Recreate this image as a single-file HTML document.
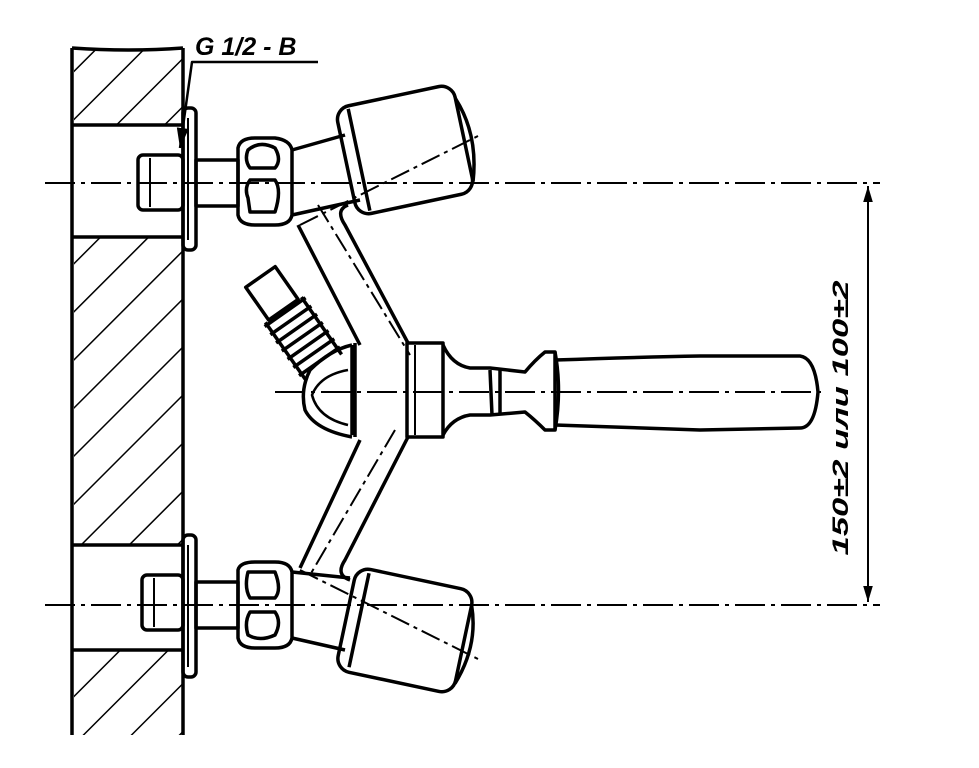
<!DOCTYPE html>
<html><head><meta charset="utf-8"><style>
html,body{margin:0;padding:0;background:#fff;}
svg{display:block}
text{font-family:"Liberation Sans",sans-serif;font-style:italic;font-weight:bold;fill:#000}
</style></head><body>
<svg width="979" height="768" viewBox="0 0 979 768" xmlns="http://www.w3.org/2000/svg">
<defs>
<pattern id="h" patternUnits="userSpaceOnUse" width="34" height="34" patternTransform="rotate(45)">
<line x1="0" y1="0" x2="0" y2="34" stroke="#000" stroke-width="3"/>
</pattern>
<marker id="a" viewBox="0 0 10 10" refX="10" refY="5" markerWidth="8" markerHeight="8" orient="auto-start-reverse"><path d="M0,2 L10,5 L0,8 z" fill="#000"/></marker>
</defs>
<g fill="none" stroke="#000" stroke-width="3.5" stroke-linejoin="round">
<path d="M72,48 L72,735 M183,48 L183,735 M72,48 Q130,52 183,48" />
<rect x="74" y="50" width="108" height="75" fill="url(#h)" stroke="none"/>
<rect x="74" y="237" width="108" height="308" fill="url(#h)" stroke="none"/>
<rect x="74" y="650" width="108" height="85" fill="url(#h)" stroke="none"/>
<path d="M72,125 H183 M72,237 H183 M72,545 H183 M72,650 H183"/>
<g stroke-width="2" stroke-dasharray="30,6,4,6">
<line x1="45" y1="183" x2="880" y2="183"/>
<line x1="45" y1="605" x2="880" y2="605"/>
<line x1="275" y1="392" x2="822" y2="392"/>
</g>
<line x1="868" y1="186" x2="868" y2="602" stroke-width="2" marker-start="url(#a)" marker-end="url(#a)"/>
<path d="M318,62 H192 L180,148" stroke-width="2.5" marker-end="url(#a)"/>
<rect x="183" y="108" width="13" height="142" rx="5"/>
<line x1="188" y1="118" x2="188" y2="240" stroke-width="2"/>
<rect x="183" y="535" width="13" height="142" rx="5"/>
<line x1="188" y1="545" x2="188" y2="667" stroke-width="2"/>
<rect x="138" y="155" width="45" height="55" rx="5"/>
<line x1="150" y1="158" x2="150" y2="207" stroke-width="2"/>
<rect x="196" y="160" width="42" height="46"/>
<path d="M238,148 Q240,138 255,138 L275,138 Q290,140 292,150 L292,215 Q290,225 275,225 L255,225 Q240,225 238,215 Z"/>
<path d="M248,150 Q260,140 275,148 Q282,160 275,168 L250,168 Q244,160 248,150 Z"/>
<path d="M248,198 Q244,188 250,180 L275,180 Q282,190 275,212 L250,212 Z"/>
<path d="M292,150 L345,135 M292,215 L360,200"/>
<g transform="rotate(-12 405 150)">
<rect x="345" y="95" width="120" height="110" rx="14"/>
<line x1="358" y1="98" x2="358" y2="202"/>
<path d="M465,110 Q480,150 465,195" />
</g>
<line x1="300" y1="225" x2="480" y2="135" stroke-width="2" stroke-dasharray="20,5,4,5"/>
<rect x="142" y="575" width="41" height="55" rx="5"/>
<line x1="154" y1="578" x2="154" y2="627" stroke-width="2"/>
<rect x="196" y="582" width="42" height="46"/>
<path d="M238,570 Q240,562 255,562 L275,562 Q290,562 292,572 L292,638 Q290,648 275,648 L255,648 Q240,648 238,638 Z"/>
<path d="M248,572 L275,572 Q282,590 275,598 L250,598 Q244,588 248,572 Z"/>
<path d="M250,612 L275,612 Q282,622 275,635 Q260,642 248,635 Q244,622 250,612 Z"/>
<path d="M292,572 L350,578 M292,638 L345,650"/>
<g transform="rotate(12 405 630)">
<rect x="345" y="578" width="120" height="105" rx="14"/>
<line x1="358" y1="582" x2="358" y2="678"/>
<path d="M465,592 Q480,630 465,672"/>
</g>
<line x1="300" y1="570" x2="480" y2="660" stroke-width="2" stroke-dasharray="20,5,4,5"/>
<path d="M298,225 L360,345 M348,205 Q335,210 345,225 L408,343"/>
<path d="M408,437 L345,560 Q335,575 350,580 M360,440 L300,568"/>
<line x1="318" y1="205" x2="410" y2="355" stroke-width="2" stroke-dasharray="20,5,4,5"/>
<line x1="395" y1="430" x2="310" y2="575" stroke-width="2" stroke-dasharray="20,5,4,5"/>
<path d="M355,343 V437 M352,345 V435"/>
<rect x="407" y="343" width="36" height="94"/>
<line x1="415" y1="345" x2="415" y2="435" stroke-width="2"/>
<path d="M443,345 Q452,365 470,368 L490,368 L525,372 Q535,360 545,352 L555,352 L555,430 L545,430 Q535,420 525,412 L490,415 L470,415 Q452,418 443,435"/>
<path d="M490,370 L492,415 M500,370 L500,415"/>
<path d="M555,352 Q562,390 555,430"/>
<path d="M555,360 Q640,357 700,356 L800,356 Q815,358 818,392 Q815,428 800,428 L700,430 Q640,428 555,425"/>
<path d="M352,345 Q330,350 310,370 Q300,390 305,410 Q315,430 352,437"/>
<path d="M348,370 Q320,375 312,395 Q318,418 348,425" stroke-width="2.5"/>
<g transform="translate(12,12) rotate(-35 280 310)">
<rect x="262" y="255" width="36" height="40"/>
<path d="M255,298 h50 M255,308 h50 M255,318 h50 M255,328 h50 M255,338 h50 M255,348 h50 M255,358 h50"/>
<path d="M258,295 V365 M302,295 V365"/>
</g>
</g>
<text x="195" y="55" font-size="25">G 1/2 - B</text>
<text transform="translate(848,418) rotate(-90)" text-anchor="middle" font-size="22" textLength="275" lengthAdjust="spacingAndGlyphs">150±2 или 100±2</text>
</svg>
</body></html>
